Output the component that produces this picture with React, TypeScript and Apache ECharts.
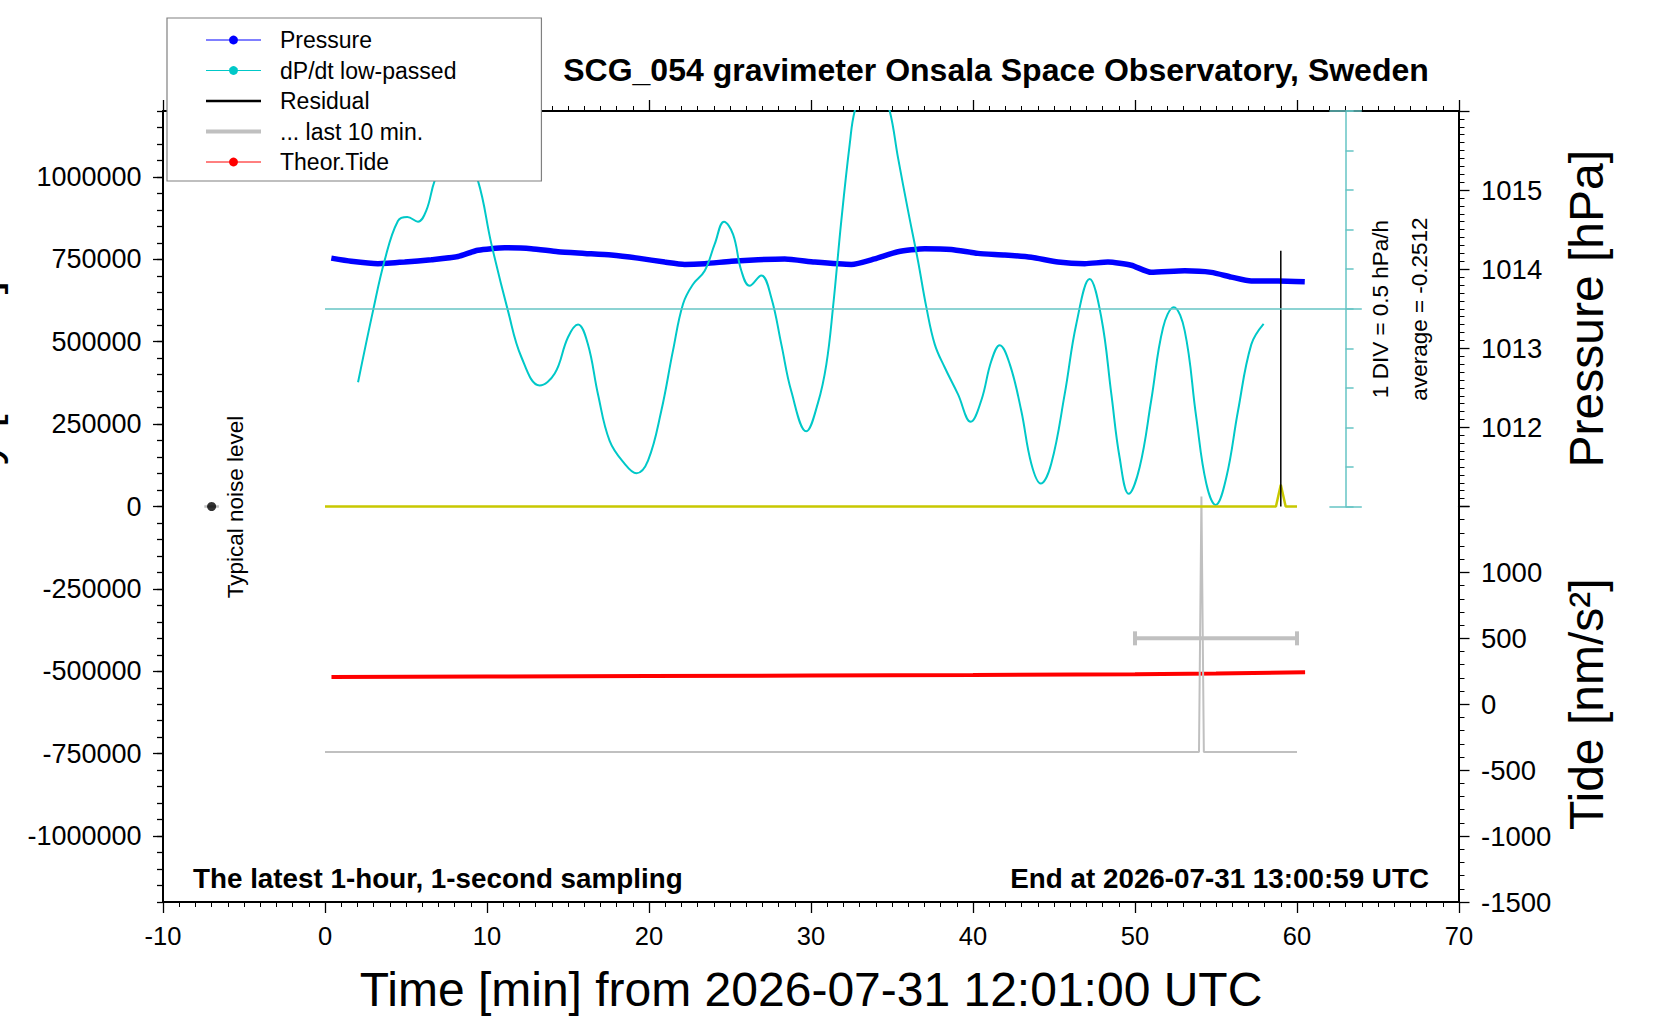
import { useEffect, useRef } from "react";
import * as echarts from "echarts";

const FONT = "'Liberation Sans', Arial, Helvetica, sans-serif";

// axes
const timeRange = [-10, 70];
const timeStep = 10;
const gravityRange = [-1200000, 1200000];
const gravityMajorTicks = [-1000000, -750000, -500000, -250000, 0, 250000, 500000, 750000, 1000000];
const pressureRange = [1011, 1016];
const pressureLabels = [1012, 1013, 1014, 1015];
const tideRange = [-1500, 1500];
const tideLabels = [-1500, -1000, -500, 0, 500, 1000];
const dpdtRange = [-2.5, 2.5]; // 1 DIV = 0.5 hPa/h
const dpdtStep = 0.5;

// [minute, hPa]
const pressure = [
  [0.39, 1014.14], [1.62, 1014.1], [3.27, 1014.07], [4.92, 1014.09], [6.56, 1014.12],
  [8.21, 1014.16], [9.44, 1014.24], [11.09, 1014.27], [12.73, 1014.26], [14.38, 1014.22],
  [16.03, 1014.2], [17.67, 1014.18], [19.32, 1014.14], [20.97, 1014.09], [22.2, 1014.06],
  [23.44, 1014.07], [25.08, 1014.1], [26.73, 1014.12], [28.38, 1014.13], [30.23, 1014.09],
  [32.49, 1014.06], [33.93, 1014.13], [35.37, 1014.22], [37.02, 1014.26], [38.66, 1014.25],
  [40.31, 1014.2], [41.96, 1014.18], [43.6, 1014.15], [45.25, 1014.09], [46.9, 1014.07],
  [48.33, 1014.09], [49.77, 1014.05], [51.0, 1013.96], [53.07, 1013.98], [54.71, 1013.96],
  [55.95, 1013.9], [57.18, 1013.85], [58.83, 1013.85], [60.48, 1013.84],
];

// [minute, hPa/h]
const dpdt = [
  [2.04, -0.93], [2.96, -0.03], [3.68, 0.61], [4.5, 1.11], [5.08, 1.16], [5.74, 1.1],
  [6.25, 1.24], [6.77, 1.62], [8.1, 2.3], [9.44, 1.62], [10.27, 0.82], [11.3, -0.03],
  [12.12, -0.61], [13.25, -0.97], [14.18, -0.82], [15.0, -0.36], [15.62, -0.2], [16.23, -0.45],
  [16.85, -1.08], [17.57, -1.67], [18.5, -1.96], [19.22, -2.08], [19.94, -1.92], [20.76, -1.29],
  [21.48, -0.53], [22.1, 0.06], [22.72, 0.31], [23.44, 0.48], [24.06, 0.82], [24.63, 1.1],
  [25.19, 0.94], [25.7, 0.48], [26.21, 0.29], [26.93, 0.42], [27.55, 0.14], [28.17, -0.45],
  [28.78, -1.04], [29.71, -1.55], [30.43, -1.19], [30.95, -0.7], [31.36, 0.02], [31.87, 1.11],
  [32.39, 2.08], [32.7, 2.5], [33.8, 3.2], [34.86, 2.5], [35.37, 1.91], [35.99, 1.24],
  [36.6, 0.61], [37.12, 0.02], [37.64, -0.45], [38.25, -0.74], [39.07, -1.08], [39.86, -1.43],
  [40.51, -1.16], [41.13, -0.66], [41.65, -0.46], [42.27, -0.7], [42.98, -1.29], [43.6, -1.96],
  [44.18, -2.21], [44.83, -1.96], [45.66, -1.08], [46.38, -0.19], [47.2, 0.375], [47.92, -0.11],
  [48.54, -1.08], [49.05, -1.88], [49.61, -2.34], [50.29, -2.0], [51.0, -1.16], [51.73, -0.24],
  [52.39, 0.02], [53.07, -0.28], [53.78, -1.37], [54.4, -2.21], [54.98, -2.48], [55.64, -2.13],
  [56.36, -1.29], [57.18, -0.45], [57.94, -0.19],
];

// [minute, nm/s^2]
const residualTrace = [[0, 0], [58.7, 0], [59.0, 66000], [59.3, 0], [60, 0]];
const residualSpike = [[59.0, 0], [59.0, 776000]];
const lastTenTrace = [[0, -745000], [53.95, -745000], [54.1, 30000], [54.25, -745000], [60, -745000]];
// [from minute, to minute, level]
const lastTenStats = [[50, 60, -400000]];
const noiseLevel = [[-7.45, -6.55, 0]];
const noisePoint = [[-7, 0]];
const theorTide = [[0.4, 206], [10, 210], [20, 214], [30, 218], [40, 222], [50, 227], [55, 233], [60.5, 242]];

const GRID = { left: 163, top: 111, width: 1296, height: 791 };

function errorBar(capHalf: number, width: number, color: string) {
  return (_params: any, api: any) => {
    const y = api.value(2);
    const a = api.coord([api.value(0), y]);
    const b = api.coord([api.value(1), y]);
    const style = { stroke: color, lineWidth: width };
    const children: any[] = [{ type: "line", shape: { x1: a[0], y1: a[1], x2: b[0], y2: b[1] }, style }];
    if (capHalf > 0) {
      children.push({ type: "line", shape: { x1: a[0], y1: a[1] - capHalf, x2: a[0], y2: a[1] + capHalf }, style });
      children.push({ type: "line", shape: { x1: b[0], y1: b[1] - capHalf, x2: b[0], y2: b[1] + capHalf }, style });
    }
    return { type: "group", children };
  };
}

function label(text: string, x: number, y: number, size: number, opts: any = {}) {
  const align = opts.align || "center";
  return {
    type: "text",
    x,
    y,
    rotation: opts.rotation || 0,
    silent: true,
    style: {
      text,
      fill: "#000",
      fontSize: size,
      fontFamily: FONT,
      fontWeight: opts.bold ? "bold" : "normal",
      align,
      textAlign: align,
      verticalAlign: "middle",
      textVerticalAlign: "middle",
    },
  };
}

function buildOption() {
  const black = { color: "#000", width: 2 };
  const tickStyle = { color: "#000", width: 1.3 };
  const teal = "#66c4c4";
  const tick = (len: number) => ({ show: true, length: len, lineStyle: tickStyle });
  const minor = (n: number, len: number) => ({ show: true, splitNumber: n, length: len, lineStyle: { color: "#000", width: 1 } });
  const axisText = (size: number) => ({ fontSize: size, fontFamily: FONT, color: "#000" });
  const x = (gridIndex: number, extra: any) => ({
    type: "value",
    gridIndex,
    min: timeRange[0],
    max: timeRange[1],
    interval: timeStep,
    splitLine: { show: false },
    ...extra,
  });
  const hiddenX = (gridIndex: number) => x(gridIndex, { show: false });
  const divOffset = -((timeRange[1] - 63) / (timeRange[1] - timeRange[0])) * GRID.width;

  return {
    animation: false,
    backgroundColor: "#fff",
    grid: [
      { ...GRID, outerBoundsMode: "none" },
      { left: GRID.left, top: GRID.top, width: GRID.width, height: GRID.height / 2, outerBoundsMode: "none" },
      { left: GRID.left, top: GRID.top + GRID.height / 2, width: GRID.width, height: GRID.height / 2, outerBoundsMode: "none" },
    ],
    xAxis: [
      x(0, {
        position: "bottom",
        axisLine: { show: true, onZero: false, lineStyle: black },
        axisTick: tick(11),
        minorTick: minor(10, 5),
        axisLabel: { ...axisText(25.5), margin: 21 },
        name: "Time [min] from 2026-07-31 12:01:00 UTC",
        nameLocation: "middle",
        nameGap: 63,
        nameMoveOverlap: false,
        nameTextStyle: axisText(48),
      }),
      x(0, {
        position: "top",
        axisLine: { show: true, onZero: false, lineStyle: black },
        axisTick: tick(11),
        minorTick: minor(10, 5),
        axisLabel: { show: false },
      }),
      hiddenX(1),
      hiddenX(2),
    ],
    yAxis: [
      {
        type: "value",
        gridIndex: 0,
        position: "left",
        min: gravityRange[0],
        max: gravityRange[1],
        interval: 50000,
        axisLine: { show: true, onZero: false, lineStyle: black },
        axisTick: tick(6),
        axisLabel: {
          ...axisText(27),
          margin: 21.5,
          formatter: (v: number) => (gravityMajorTicks.includes(v) ? String(v) : ""),
        },
        splitLine: { show: false },
      },
      {
        type: "value",
        gridIndex: 0,
        position: "left",
        min: gravityRange[0],
        max: gravityRange[1],
        interval: 50000,
        axisLine: { show: false, onZero: false },
        axisTick: { ...tick(10), customValues: gravityMajorTicks },
        axisLabel: { show: false },
        splitLine: { show: false },
      },
      {
        type: "value",
        gridIndex: 1,
        position: "right",
        min: pressureRange[0],
        max: pressureRange[1],
        interval: 1,
        axisLine: { show: true, onZero: false, lineStyle: black },
        axisTick: tick(10.5),
        minorTick: minor(10, 5.5),
        axisLabel: {
          ...axisText(27.5),
          margin: 22,
          formatter: (v: number) => (pressureLabels.includes(v) ? String(v) : ""),
        },
        splitLine: { show: false },
        name: "Pressure [hPa]",
        nameLocation: "middle",
        nameRotate: 90,
        nameGap: 103,
        nameMoveOverlap: false,
        nameTextStyle: axisText(48),
      },
      {
        type: "value",
        gridIndex: 1,
        position: "right",
        offset: divOffset,
        min: dpdtRange[0],
        max: dpdtRange[1],
        interval: dpdtStep,
        axisLine: { show: true, onZero: false, lineStyle: { color: teal, width: 1.5 } },
        axisTick: { show: true, length: 8, lineStyle: { color: teal, width: 1.5 } },
        axisLabel: { show: false },
        splitLine: { show: false },
      },
      {
        type: "value",
        gridIndex: 2,
        position: "right",
        min: tideRange[0],
        max: tideRange[1],
        interval: 500,
        axisLine: { show: true, onZero: false, lineStyle: black },
        axisTick: tick(10.5),
        minorTick: minor(5, 5.5),
        axisLabel: {
          ...axisText(27.5),
          margin: 22,
          formatter: (v: number) => (tideLabels.includes(v) ? String(v) : ""),
        },
        splitLine: { show: false },
        name: "Tide [nm/s²]",
        nameLocation: "middle",
        nameRotate: 90,
        nameGap: 103,
        nameMoveOverlap: false,
        nameTextStyle: axisText(48),
      },
    ],
    legend: {
      left: 167,
      top: 18,
      orient: "vertical",
      backgroundColor: "#fff",
      borderColor: "#808080",
      borderWidth: 1.2,
      borderRadius: 0,
      padding: [10, 85, 7, 37],
      itemWidth: 55,
      itemHeight: 11,
      itemGap: 6.5,
      selectedMode: false,
      textStyle: { fontSize: 23, fontFamily: FONT, color: "#000", lineHeight: 24, padding: [0, 0, 0, 14] },
      data: [
        { name: "Pressure", lineStyle: { width: 1, color: "#0000ff" }, itemStyle: { color: "#0000ff" } },
        { name: "dP/dt low-passed", lineStyle: { width: 1, color: "#00c8c8" }, itemStyle: { color: "#00c8c8" } },
        { name: "Residual", lineStyle: { width: 2.5, color: "#000" }, itemStyle: { color: "rgba(0,0,0,0)", borderWidth: 0 } },
        { name: "... last 10 min.", lineStyle: { width: 4, color: "#c0c0c0" }, itemStyle: { color: "rgba(0,0,0,0)", borderWidth: 0 } },
        { name: "Theor.Tide", lineStyle: { width: 1, color: "#ff0000" }, itemStyle: { color: "#ff0000" } },
      ],
    },
    graphic: [
      label("SCG_054 gravimeter Onsala Space Observatory, Sweden", 996, 70, 32, { bold: true }),
      label("The latest 1-hour, 1-second sampling", 193, 878, 27.8, { bold: true, align: "left" }),
      label("End at 2026-07-31 13:00:59 UTC", 1429, 878, 27.8, { bold: true, align: "right" }),
      label("Typical noise level", 235, 507, 22.5, { rotation: Math.PI / 2 }),
      label("1 DIV = 0.5 hPa/h", 1380, 309, 22.5, { rotation: Math.PI / 2 }),
      label("average = -0.2512", 1419, 309, 22.5, { rotation: Math.PI / 2 }),
      label("Gravity [nm/s²]", -18.6, 437, 48, { rotation: Math.PI / 2 }),
    ],
    series: [
      {
        name: "Pressure",
        type: "line",
        xAxisIndex: 2,
        yAxisIndex: 2,
        data: pressure,
        symbol: "circle",
        showSymbol: false,
        smooth: 0.2,
        lineStyle: { color: "#0000ff", width: 5.5 },
        itemStyle: { color: "#0000ff" },
        z: 2,
      },
      {
        name: "dP/dt low-passed",
        type: "line",
        xAxisIndex: 2,
        yAxisIndex: 3,
        data: dpdt,
        symbol: "circle",
        showSymbol: false,
        smooth: 0.4,
        clip: true,
        lineStyle: { color: "#00c8c8", width: 2 },
        itemStyle: { color: "#00c8c8" },
        z: 3,
        markLine: {
          silent: true,
          symbol: ["none", "none"],
          label: { show: false },
          lineStyle: { color: teal, width: 1.5, type: "solid" },
          data: [
            [{ coord: [0, 0] }, { coord: [64, 0] }],
            [{ coord: [62, dpdtRange[1]] }, { coord: [64, dpdtRange[1]] }],
            [{ coord: [62, dpdtRange[0]] }, { coord: [64, dpdtRange[0]] }],
          ],
        },
      },
      {
        name: "Theor.Tide",
        type: "line",
        xAxisIndex: 3,
        yAxisIndex: 4,
        data: theorTide,
        symbol: "circle",
        showSymbol: false,
        lineStyle: { color: "#ff0000", width: 4 },
        itemStyle: { color: "#ff0000" },
        z: 2,
      },
      {
        name: "... last 10 min.",
        type: "line",
        xAxisIndex: 0,
        yAxisIndex: 0,
        data: lastTenTrace,
        symbol: "none",
        lineStyle: { color: "#c0c0c0", width: 2 },
        itemStyle: { color: "#c0c0c0" },
        z: 3,
      },
      {
        name: "lastTenStats",
        type: "custom",
        xAxisIndex: 0,
        yAxisIndex: 0,
        data: lastTenStats,
        renderItem: errorBar(7, 4, "#c0c0c0"),
        z: 3,
      },
      {
        name: "noiseLevel",
        type: "custom",
        xAxisIndex: 0,
        yAxisIndex: 0,
        data: noiseLevel,
        renderItem: errorBar(0, 2.5, "#c0c0c0"),
        z: 3,
      },
      {
        name: "noisePoint",
        type: "scatter",
        xAxisIndex: 0,
        yAxisIndex: 0,
        data: noisePoint,
        symbolSize: 9,
        itemStyle: { color: "#000" },
        z: 3,
      },
      {
        name: "residualTrace",
        type: "line",
        xAxisIndex: 0,
        yAxisIndex: 0,
        data: residualTrace,
        symbol: "none",
        lineStyle: { color: "#c8c800", width: 2.5 },
        z: 3,
      },
      {
        name: "Residual",
        type: "line",
        xAxisIndex: 0,
        yAxisIndex: 0,
        data: residualSpike,
        symbol: "none",
        lineStyle: { color: "#000", width: 1.5 },
        itemStyle: { color: "#000" },
        z: 3,
      },
    ],
  };
}

export default function App() {
  const containerRef = useRef<HTMLDivElement>(null);

  useEffect(() => {
    if (!containerRef.current) return;
    const chart = echarts.init(containerRef.current, null, { renderer: "svg" });
    chart.setOption(buildOption() as any);
    return () => {
      chart.dispose();
    };
  }, []);

  return (
    <div
      ref={containerRef}
      style={{ position: "absolute", left: 0, top: 0, width: "1660px", height: "1020px", background: "#fff" }}
    />
  );
}
